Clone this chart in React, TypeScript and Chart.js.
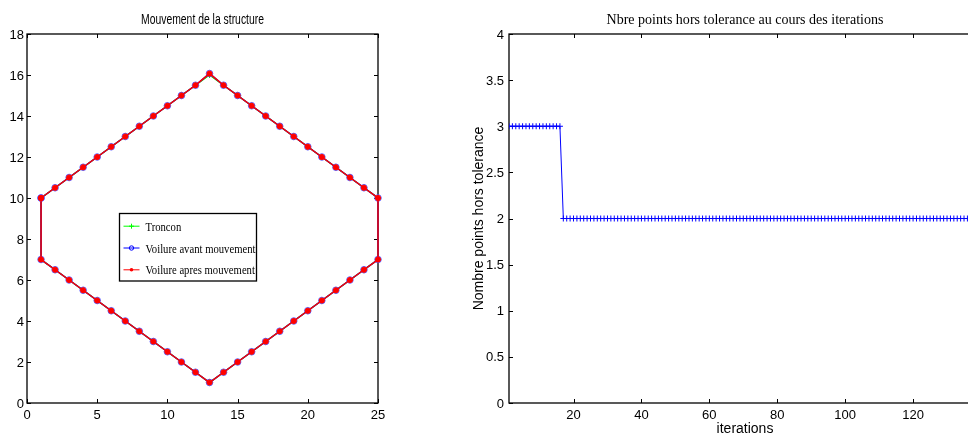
import React, { useEffect, useRef } from "react";
import { Chart, registerables } from "chart.js";

Chart.register(...registerables);

// ---------------- Left chart: "Mouvement de la structure" ----------------
const STRUCT_X = [
  1, 2, 3, 4, 5, 6, 7, 8, 9, 10, 11, 12, 13, 14, 15, 16, 17, 18, 19, 20, 21, 22, 23, 24, 25,
  25, 24, 23, 22, 21, 20, 19, 18, 17, 16, 15, 14, 13, 12, 11, 10, 9, 8, 7, 6, 5, 4, 3, 2, 1,
  1,
];
const TRONCON_Y = [
  10, 10.5, 11, 11.5, 12, 12.5, 13, 13.5, 14, 14.5, 15, 15.5, 16, 15.5, 15, 14.5, 14, 13.5, 13, 12.5, 12, 11.5, 11, 10.5, 10,
  7, 6.5, 6, 5.5, 5, 4.5, 4, 3.5, 3, 2.5, 2, 1.5, 1, 1.5, 2, 2.5, 3, 3.5, 4, 4.5, 5, 5.5, 6, 6.5, 7,
  10,
];
const AVANT_Y = [
  10, 10.5, 11, 11.5, 12, 12.5, 13, 13.5, 14, 14.5, 15, 15.5, 16.07, 15.5, 15, 14.5, 14, 13.5, 13, 12.5, 12, 11.5, 11, 10.5, 10,
  7, 6.5, 6, 5.5, 5, 4.5, 4, 3.5, 3, 2.5, 2, 1.5, 1, 1.5, 2, 2.5, 3, 3.5, 4, 4.5, 5, 5.5, 6, 6.5, 7,
  10,
];
const APRES_Y = [
  10, 10.5, 11, 11.5, 12, 12.5, 13, 13.5, 14, 14.5, 15, 15.5, 16.07, 15.5, 15, 14.5, 14, 13.5, 13, 12.5, 12, 11.5, 11, 10.5, 10,
  7, 6.5, 6, 5.5, 5, 4.5, 4, 3.5, 3, 2.5, 2, 1.5, 1, 1.5, 2, 2.5, 3, 3.5, 4, 4.5, 5, 5.5, 6, 6.5, 7,
  10,
];
const LEFT_X_TICKS = [0, 5, 10, 15, 20, 25];
const LEFT_Y_TICKS = [0, 2, 4, 6, 8, 10, 12, 14, 16, 18];

// ---------------- Right chart: "Nbre points hors tolerance" ----------------
const ITERATIONS = [
  1, 2, 3, 4, 5, 6, 7, 8, 9, 10, 11, 12, 13, 14, 15, 16, 17, 18, 19, 20,
  21, 22, 23, 24, 25, 26, 27, 28, 29, 30, 31, 32, 33, 34, 35, 36, 37, 38, 39, 40,
  41, 42, 43, 44, 45, 46, 47, 48, 49, 50, 51, 52, 53, 54, 55, 56, 57, 58, 59, 60,
  61, 62, 63, 64, 65, 66, 67, 68, 69, 70, 71, 72, 73, 74, 75, 76, 77, 78, 79, 80,
  81, 82, 83, 84, 85, 86, 87, 88, 89, 90, 91, 92, 93, 94, 95, 96, 97, 98, 99, 100,
  101, 102, 103, 104, 105, 106, 107, 108, 109, 110, 111, 112, 113, 114, 115, 116, 117, 118, 119, 120,
  121, 122, 123, 124, 125, 126, 127, 128, 129, 130, 131, 132, 133, 134, 135, 136, 137, 138, 139, 140,
];
const NB_HORS_TOL = [
  3, 3, 3, 3, 3, 3, 3, 3, 3, 3, 3, 3, 3, 3, 3, 3, 2, 2, 2, 2,
  2, 2, 2, 2, 2, 2, 2, 2, 2, 2, 2, 2, 2, 2, 2, 2, 2, 2, 2, 2,
  2, 2, 2, 2, 2, 2, 2, 2, 2, 2, 2, 2, 2, 2, 2, 2, 2, 2, 2, 2,
  2, 2, 2, 2, 2, 2, 2, 2, 2, 2, 2, 2, 2, 2, 2, 2, 2, 2, 2, 2,
  2, 2, 2, 2, 2, 2, 2, 2, 2, 2, 2, 2, 2, 2, 2, 2, 2, 2, 2, 2,
  2, 2, 2, 2, 2, 2, 2, 2, 2, 2, 2, 2, 2, 2, 2, 2, 2, 2, 2, 2,
  2, 2, 2, 2, 2, 2, 2, 2, 2, 2, 2, 2, 2, 2, 2, 2, 2, 2, 2, 2,
];
const RIGHT_X_TICKS = [20, 40, 60, 80, 100, 120, 140];
const RIGHT_Y_TICKS = [0, 0.5, 1, 1.5, 2, 2.5, 3, 3.5, 4];

const SANS = "'Liberation Sans', Arial, Helvetica, sans-serif";
const SERIF = "'Liberation Serif', 'Times New Roman', serif";

function drawFitted(
  ctx: CanvasRenderingContext2D,
  text: string,
  x: number,
  y: number,
  font: string,
  sx: number,
  align: CanvasTextAlign
) {
  ctx.save();
  ctx.font = font;
  ctx.textAlign = align;
  ctx.textBaseline = "alphabetic";
  ctx.translate(x, y);
  ctx.scale(sx, 1);
  ctx.fillText(text, 0, 0);
  ctx.restore();
}

function fitScale(ctx: CanvasRenderingContext2D, text: string, font: string, target?: number) {
  if (!target) return 1;
  ctx.save();
  ctx.font = font;
  const w = ctx.measureText(text).width;
  ctx.restore();
  return w > 0 ? target / w : 1;
}

const matlabPlugin = {
  id: "matlab",
  beforeDatasetsDraw(chart: any) {
    const ctx: CanvasRenderingContext2D = chart.ctx;
    const a = chart.chartArea;
    const xs = chart.scales.x;
    const ys = chart.scales.y;
    ctx.save();
    // frame (box on), drawn under the data like MATLAB
    ctx.strokeStyle = "#000";
    ctx.lineWidth = 1.3;
    ctx.strokeRect(a.left, a.top, a.right - a.left, a.bottom - a.top);
    // inward ticks on all sides
    const TL = 4;
    ctx.lineWidth = 1;
    ctx.beginPath();
    xs.ticks.forEach((t: any) => {
      const px = Math.round(xs.getPixelForValue(t.value)) + 0.5;
      ctx.moveTo(px, a.bottom);
      ctx.lineTo(px, a.bottom - TL);
      ctx.moveTo(px, a.top);
      ctx.lineTo(px, a.top + TL);
    });
    ys.ticks.forEach((t: any) => {
      const py = Math.round(ys.getPixelForValue(t.value)) + 0.5;
      ctx.moveTo(a.left, py);
      ctx.lineTo(a.left + TL, py);
      ctx.moveTo(a.right, py);
      ctx.lineTo(a.right - TL, py);
    });
    ctx.stroke();
    ctx.restore();
  },
  afterDraw(chart: any, _args: any, opts: any) {
    const ctx: CanvasRenderingContext2D = chart.ctx;
    const a = chart.chartArea;
    const xs = chart.scales.x;
    const ys = chart.scales.y;
    ctx.save();

    // tick labels
    ctx.fillStyle = "#000";
    ctx.font = `13px ${SANS}`;
    ctx.textBaseline = "alphabetic";
    ctx.textAlign = "center";
    xs.ticks.forEach((t: any) => {
      ctx.fillText(String(t.value), xs.getPixelForValue(t.value), a.bottom + opts.xTickDy);
    });
    ctx.textAlign = "right";
    ys.ticks.forEach((t: any) => {
      ctx.fillText(String(t.value), a.left - opts.yTickGap, ys.getPixelForValue(t.value) + 4.6);
    });

    const cx = (a.left + a.right) / 2;
    const cy = (a.top + a.bottom) / 2;

    // title
    if (opts.title) {
      const sx = fitScale(ctx, opts.title, opts.titleFont, opts.titleWidth);
      drawFitted(ctx, opts.title, cx, opts.titleBaseline, opts.titleFont, sx, "center");
    }
    // x label
    if (opts.xLabel) {
      drawFitted(ctx, opts.xLabel, cx, opts.xLabelBaseline, `14px ${SANS}`, 1, "center");
    }
    // y label
    if (opts.yLabel) {
      ctx.save();
      ctx.translate(a.left - opts.yLabelOffset, cy);
      ctx.rotate(-Math.PI / 2);
      ctx.font = `14px ${SANS}`;
      ctx.textAlign = "center";
      ctx.textBaseline = "alphabetic";
      ctx.fillText(opts.yLabel, 0, 0);
      ctx.restore();
    }

    // legend
    if (opts.legend) {
      const L = opts.legend;
      ctx.fillStyle = "#fff";
      ctx.fillRect(L.x, L.y, L.w, L.h);
      ctx.strokeStyle = "#000";
      ctx.lineWidth = 1.3;
      ctx.strokeRect(L.x, L.y, L.w, L.h);
      const font = `13.5px ${SERIF}`;
      const longest = L.items.reduce((m: string, it: any) => (it.label.length > m.length ? it.label : m), "");
      const sx = fitScale(ctx, longest, font, L.textWidth);
      L.items.forEach((it: any, i: number) => {
        const base = L.firstBaseline + i * L.rowGap;
        const ly = base - 4.5;
        const x0 = L.x + 4;
        const x1 = L.x + 20;
        const xm = (x0 + x1) / 2;
        ctx.strokeStyle = it.color;
        ctx.lineWidth = 1;
        ctx.beginPath();
        ctx.moveTo(x0, ly);
        ctx.lineTo(x1, ly);
        ctx.stroke();
        if (it.marker === "plus") {
          ctx.beginPath();
          ctx.moveTo(xm - 2.5, ly);
          ctx.lineTo(xm + 2.5, ly);
          ctx.moveTo(xm, ly - 2.5);
          ctx.lineTo(xm, ly + 2.5);
          ctx.stroke();
        } else if (it.marker === "circle") {
          ctx.beginPath();
          ctx.arc(xm, ly, 2.2, 0, Math.PI * 2);
          ctx.stroke();
        } else if (it.marker === "dot") {
          ctx.fillStyle = it.color;
          ctx.beginPath();
          ctx.arc(xm, ly, 1.8, 0, Math.PI * 2);
          ctx.fill();
        }
        ctx.fillStyle = "#000";
        drawFitted(ctx, it.label, L.x + 26, base, font, sx, "left");
      });
    }
    ctx.restore();
  },
};

function pts(xsArr: number[], ysArr: number[]) {
  return xsArr.map((x, i) => ({ x, y: ysArr[i] }));
}

function axis(min: number, max: number, ticks: number[], size: number, isX: boolean) {
  return {
    type: "linear",
    min,
    max,
    ticks: { display: false },
    grid: { display: false, drawTicks: false },
    border: { display: false },
    afterBuildTicks: (s: any) => {
      s.ticks = ticks.map((v) => ({ value: v }));
    },
    afterFit: (s: any) => {
      if (isX) s.height = size;
      else s.width = size;
    },
  };
}

function leftConfig(): any {
  return {
    type: "line",
    data: {
      datasets: [
        {
          label: "Voilure apres mouvement",
          data: pts(STRUCT_X, APRES_Y),
          borderColor: "#ff0000",
          backgroundColor: "#ff0000",
          borderWidth: 1.5,
          pointStyle: "circle",
          pointRadius: 2.6,
          pointBorderWidth: 1,
          pointBackgroundColor: "#ff0000",
          pointBorderColor: "#ff0000",
          clip: false,
          order: 0,
        },
        {
          label: "Voilure avant mouvement",
          data: pts(STRUCT_X, AVANT_Y),
          borderColor: "#0000ff",
          backgroundColor: "rgba(0,0,0,0)",
          borderWidth: 1.5,
          pointStyle: "circle",
          pointRadius: 3.3,
          pointBorderWidth: 1,
          pointBackgroundColor: "rgba(0,0,0,0)",
          pointBorderColor: "#5a5aff",
          clip: false,
          order: 1,
        },
        {
          label: "Troncon",
          data: pts(STRUCT_X, TRONCON_Y),
          borderColor: "#00ff00",
          backgroundColor: "#00ff00",
          borderWidth: 1.5,
          pointStyle: "cross",
          pointRadius: 3,
          pointBorderWidth: 1,
          clip: false,
          order: 2,
        },
      ],
    },
    options: {
      responsive: false,
      animation: false,
      events: [],
      layout: { padding: { left: 0, top: 34, right: 106, bottom: 13 } },
      plugins: {
        legend: { display: false },
        tooltip: { enabled: false },
        title: { display: false },
        matlab: {
          xTickDy: 15.5,
          yTickGap: 3,
          title: "Mouvement de la structure",
          titleFont: `14px ${SANS}`,
          titleWidth: 123,
          titleBaseline: 23.5,
          legend: {
            x: 119.5,
            y: 213.5,
            w: 137,
            h: 67.5,
            firstBaseline: 230.7,
            rowGap: 21.8,
            textWidth: 110,
            items: [
              { label: "Troncon", color: "#00ff00", marker: "plus" },
              { label: "Voilure avant mouvement", color: "#0000ff", marker: "circle" },
              { label: "Voilure apres mouvement", color: "#ff0000", marker: "dot" },
            ],
          },
        },
      },
      scales: {
        x: axis(0, 25, LEFT_X_TICKS, 20, true),
        y: axis(0, 18, LEFT_Y_TICKS, 27, false),
      },
    },
    plugins: [matlabPlugin],
  };
}

function rightConfig(): any {
  return {
    type: "line",
    data: {
      datasets: [
        {
          label: "Nombre points hors tolerance",
          data: pts(ITERATIONS, NB_HORS_TOL),
          borderColor: "#0000ff",
          backgroundColor: "#0000ff",
          borderWidth: 1,
          pointStyle: "cross",
          pointRadius: 3,
          pointBorderWidth: 1,
          pointBorderColor: "#0000ff",
        },
      ],
    },
    options: {
      responsive: false,
      animation: false,
      events: [],
      layout: { padding: { left: 0, top: 34, right: 24, bottom: 13 } },
      plugins: {
        legend: { display: false },
        tooltip: { enabled: false },
        title: { display: false },
        matlab: {
          xTickDy: 15.5,
          yTickGap: 5,
          title: "Nbre points hors tolerance au cours des iterations",
          titleFont: `15px ${SERIF}`,
          titleWidth: 277,
          titleBaseline: 23.5,
          xLabel: "iterations",
          xLabelBaseline: 432.5,
          yLabel: "Nombre points hors tolerance",
          yLabelOffset: 26,
        },
      },
      scales: {
        x: axis(1, 140, RIGHT_X_TICKS, 20, true),
        y: axis(0, 4, RIGHT_Y_TICKS, 49, false),
      },
    },
    plugins: [matlabPlugin],
  };
}

function Plot({ make, left, width }: { make: () => any; left: number; width: number }) {
  const ref = useRef<HTMLCanvasElement | null>(null);
  useEffect(() => {
    if (!ref.current) return;
    const chart = new Chart(ref.current, make());
    return () => chart.destroy();
  }, [make]);
  return (
    <canvas
      ref={ref}
      width={width}
      height={436}
      style={{ position: "absolute", left, top: 0, width, height: 436 }}
    />
  );
}

export default function App() {
  return (
    <div
      style={{
        position: "fixed",
        left: 0,
        top: 0,
        width: 968,
        height: 436,
        overflow: "hidden",
        background: "#fff",
      }}
    >
      <Plot make={leftConfig} left={0} width={484} />
      <Plot make={rightConfig} left={460} width={545} />
    </div>
  );
}
